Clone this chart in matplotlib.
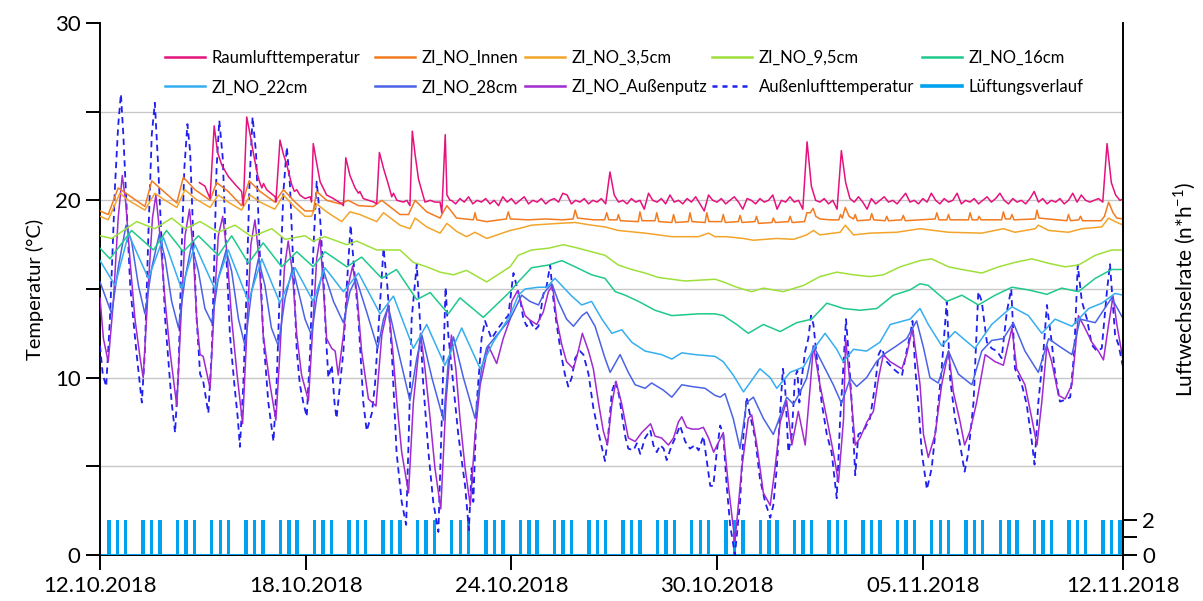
import numpy as np
import matplotlib
matplotlib.use('Agg')
import matplotlib.pyplot as plt
from matplotlib.lines import Line2D

plt.rcParams['font.family'] = ['Lato', 'DejaVu Sans']

# time axis: days since 12.10.2018 00:00
date_ticks = [0, 6, 12, 18, 24, 29.84]
date_labels = ['12.10.2018', '18.10.2018', '24.10.2018', '30.10.2018', '05.11.2018', '12.11.2018']

# (day, temperature °C)
raumluft_head = [
    (2.90, 21.0), (3.06, 20.8), (3.21, 20.1), (3.33, 24.2), (3.43, 22.7), (3.55, 22.0), (3.74, 21.35),
    (3.94, 20.9), (4.13, 20.5), (4.18, 19.7), (4.28, 24.7), (4.38, 23.7), (4.47, 22.7), (4.60, 21.4),
    (4.67, 20.95), (4.72, 20.7), (4.77, 20.95), (4.86, 20.6), (5.11, 20.2), (5.13, 19.9), (5.25, 23.4),
    (5.35, 22.6), (5.45, 22.0), (5.59, 20.9), (5.67, 20.5), (5.74, 20.6), (5.83, 20.3), (5.98, 20.1),
    (6.13, 20.2), (6.17, 19.9), (6.22, 23.2), (6.32, 22.1), (6.42, 21.05), (6.51, 20.7), (6.61, 20.3),
    (6.81, 20.1), (7.05, 19.8), (7.10, 19.7), (7.17, 22.4), (7.29, 21.4), (7.44, 20.7), (7.54, 20.4),
    (7.58, 20.5), (7.68, 20.1), (7.99, 19.9), (8.07, 19.8), (8.15, 22.7), (8.27, 21.8), (8.41, 20.9),
    (8.51, 20.2), (8.56, 20.4), (8.66, 20.0), (8.85, 19.9), (8.95, 20.0), (9.04, 19.7), (9.11, 23.9),
    (9.19, 22.6), (9.29, 21.2), (9.39, 20.5), (9.48, 19.9), (9.63, 20.0), (9.77, 19.9), (9.92, 19.9),
    (9.97, 19.3), (10.07, 23.7), (10.12, 20.3), (10.21, 20.0),
]
# 3-hourly values from 10.25 d on
raumluft_tail_start = 10.25
raumluft_tail_step = 0.125
raumluft_tail = [
    20.0, 19.8, 20.1, 19.9, 20.2, 19.8, 20.0, 19.9,
    20.1, 19.8, 20.0, 19.7, 20.2, 19.9, 20.1, 19.8,
    20.0, 20.2, 19.8, 20.0, 19.9, 20.1, 19.8, 20.0,
    20.1, 19.9, 20.4, 20.3, 19.8, 20.0, 19.9, 20.1,
    19.8, 20.0, 19.9, 20.1, 19.8, 21.6, 20.3, 19.9,
    20.0, 19.8, 20.1, 19.9, 20.0, 19.5, 20.4, 20.0,
    19.9, 20.1, 19.8, 20.3, 19.9, 20.0, 19.8, 20.1,
    19.9, 20.2, 19.8, 19.4, 20.3, 20.0, 19.9, 20.1,
    19.8, 20.0, 20.2, 19.9, 19.5, 20.1, 20.0, 19.8,
    20.1, 19.9, 20.0, 20.3, 19.5, 20.0, 19.9, 20.2,
    19.9, 20.0, 19.5, 23.3, 20.8, 20.0, 19.9, 20.1,
    19.8, 20.0, 19.5, 22.8, 21.0, 20.1, 19.9, 20.2,
    19.9, 19.5, 20.1, 19.8, 20.0, 20.2, 19.9, 20.0,
    19.8, 20.1, 20.4, 19.9, 20.0, 19.8, 20.1, 19.9,
    20.4, 20.0, 19.8, 20.1, 19.9, 20.0, 20.4, 19.8,
    20.0, 19.9, 20.1, 19.8, 20.0, 20.2, 19.9, 20.1,
    20.4, 20.0, 19.8, 20.1, 19.9, 20.0, 19.8, 20.1,
    20.5, 19.9, 20.1, 19.8, 20.0, 19.9, 20.1, 19.8,
    20.0, 20.4, 19.9, 20.3, 20.0, 19.9, 20.0, 20.1,
    19.9, 23.2, 21.0, 20.3, 20.0, 20.1,
]

innen = [
    (0.0, 19.4), (0.24, 19.2), (0.53, 20.7), (0.83, 20.3), (1.31, 19.65), (1.51, 21.1), (1.8, 20.6),
    (2.24, 19.85), (2.43, 21.3), (2.77, 20.6), (3.21, 20.0), (3.4, 21.0), (3.74, 20.5), (4.13, 19.7),
    (4.35, 21.1), (4.67, 20.5), (5.1, 19.9), (5.35, 20.6), (5.69, 19.9), (5.98, 19.4), (6.22, 19.4),
    (6.32, 20.5), (6.61, 20.0), (7.0, 19.8), (7.24, 20.0), (7.54, 19.7), (7.97, 19.65), (8.22, 20.0),
    (8.75, 19.2), (9.0, 19.2), (9.19, 20.0), (9.53, 19.35), (9.92, 19.0), (10.0, 19.3), (10.12, 19.7),
    (10.4, 19.0), (10.89, 18.9), (10.94, 19.3), (10.99, 18.9), (11.28, 18.8), (11.85, 18.95),
    (11.91, 19.35), (11.97, 18.95), (12.5, 18.9), (13.0, 18.95), (13.5, 18.9), (13.8, 18.95),
    (13.86, 19.45), (13.93, 19.0), (14.4, 18.9), (14.72, 18.9), (14.78, 19.3), (14.84, 18.9),
    (15.08, 18.9), (15.12, 19.2), (15.18, 18.85), (15.7, 18.8), (15.75, 19.35), (15.81, 18.85),
    (16.19, 18.85), (16.24, 19.3), (16.3, 18.8), (16.68, 18.75), (16.73, 19.2), (16.79, 18.75),
    (17.16, 18.8), (17.21, 19.3), (17.27, 18.8), (17.65, 18.75), (17.7, 19.3), (17.76, 18.8),
    (18.13, 18.8), (18.18, 19.2), (18.24, 18.75), (18.62, 18.8), (18.67, 19.15), (18.73, 18.75),
    (19.1, 18.8), (19.15, 19.1), (19.21, 18.7), (19.6, 18.75), (19.64, 19.0), (19.7, 18.75),
    (20.08, 18.8), (20.13, 19.1), (20.19, 18.75), (20.55, 18.8), (20.62, 19.3), (20.72, 19.3),
    (20.8, 19.55), (20.88, 19.1), (21.0, 18.95), (21.3, 18.9), (21.55, 18.9), (21.6, 19.2),
    (21.65, 19.0), (21.74, 19.6), (21.85, 19.1), (21.98, 18.95), (22.03, 19.2), (22.09, 18.85),
    (22.46, 18.9), (22.51, 19.25), (22.57, 18.9), (22.9, 18.85), (22.95, 19.1), (23.0, 18.85),
    (23.38, 18.9), (23.43, 19.15), (23.49, 18.85), (23.9, 18.9), (24.36, 18.95), (24.41, 19.3),
    (24.47, 18.9), (24.7, 18.9), (24.75, 19.2), (24.8, 18.9), (25.33, 18.9), (25.38, 19.3),
    (25.44, 18.9), (25.6, 18.9), (25.64, 19.1), (25.7, 18.9), (26.3, 18.9), (26.35, 19.35),
    (26.41, 18.95), (26.55, 18.95), (26.6, 19.2), (26.66, 18.9), (27.28, 18.95), (27.33, 19.45),
    (27.39, 19.0), (28.2, 18.85), (28.25, 19.2), (28.31, 18.85), (28.55, 18.9), (28.6, 19.1),
    (28.66, 18.85), (29.2, 18.85), (29.3, 19.1), (29.42, 19.9), (29.55, 19.3), (29.66, 19.0),
    (29.85, 18.95),
]

cm_3_5 = [
    (0.0, 19.1), (0.24, 18.9), (0.58, 20.4), (0.83, 20.0), (1.31, 19.45), (1.6, 20.4), (1.9, 20.0),
    (2.24, 19.6), (2.48, 20.6), (2.77, 20.1), (3.21, 19.6), (3.45, 20.3), (3.74, 19.9), (4.13, 19.45),
    (4.38, 20.3), (4.67, 19.9), (5.1, 19.5), (5.35, 20.3), (5.64, 19.7), (5.98, 19.1), (6.17, 19.1),
    (6.32, 19.8), (6.61, 19.35), (7.05, 18.8), (7.29, 19.35), (7.58, 19.2), (8.07, 18.8), (8.27, 19.3),
    (8.75, 18.6), (9.04, 18.4), (9.19, 19.0), (9.53, 18.5), (9.92, 18.15), (10.12, 18.7), (10.4, 18.25),
    (10.69, 17.95), (10.94, 18.2), (11.28, 17.85), (11.96, 18.3), (12.2, 18.4), (12.59, 18.6),
    (13.37, 18.7), (13.86, 18.75), (14.34, 18.6), (14.73, 18.5), (15.12, 18.3), (15.9, 18.15),
    (16.29, 18.05), (16.68, 17.95), (17.46, 17.95), (17.75, 18.15), (17.94, 17.95), (18.28, 17.95),
    (18.77, 17.85), (19.06, 17.75), (19.74, 17.85), (20.23, 17.8), (20.61, 18.05), (20.81, 18.3),
    (21.0, 18.05), (21.59, 18.2), (21.74, 18.6), (21.98, 18.05), (22.46, 18.15), (23.24, 18.2),
    (23.92, 18.4), (24.75, 18.2), (25.72, 18.15), (26.35, 18.4), (26.69, 18.2), (27.28, 18.4),
    (27.37, 18.6), (27.67, 18.3), (28.25, 18.2), (28.64, 18.4), (29.22, 18.5), (29.42, 19.0),
    (29.61, 18.8), (29.85, 18.6),
]

cm_9_5 = [
    (0.0, 18.0), (0.34, 17.85), (1.07, 18.8), (1.6, 18.4), (2.09, 19.0), (2.48, 18.4), (2.92, 18.8),
    (3.45, 18.2), (3.94, 18.6), (4.42, 17.95), (5.01, 18.4), (5.4, 17.8), (5.98, 18.0), (6.22, 17.7),
    (6.56, 17.95), (7.2, 17.5), (7.49, 17.7), (8.07, 17.2), (8.75, 17.2), (9.14, 16.5), (9.53, 16.25),
    (9.92, 15.95), (10.31, 15.8), (10.69, 16.05), (11.28, 15.4), (11.96, 16.25), (12.2, 16.9),
    (12.59, 17.2), (13.08, 17.3), (13.52, 17.5), (13.95, 17.3), (14.34, 17.1), (14.73, 16.9),
    (15.12, 16.35), (15.51, 16.1), (15.9, 15.9), (16.29, 15.65), (17.07, 15.45), (17.94, 15.55),
    (18.18, 15.4), (18.57, 15.1), (19.01, 14.85), (19.35, 15.05), (19.93, 14.85), (20.52, 15.2),
    (21.0, 15.7), (21.49, 15.95), (21.98, 15.8), (22.46, 15.7), (22.85, 15.8), (23.34, 16.25),
    (23.92, 16.6), (24.26, 16.7), (24.75, 16.25), (25.14, 16.1), (25.72, 15.9), (26.21, 16.25),
    (26.69, 16.5), (27.18, 16.7), (27.67, 16.45), (28.15, 16.25), (28.54, 16.35), (29.03, 16.9),
    (29.51, 17.2), (29.85, 17.2),
]

cm_16 = [
    (0.0, 17.3), (0.29, 16.7), (0.92, 18.3), (1.56, 17.2), (1.94, 18.3), (2.43, 17.1), (2.87, 18.0),
    (3.45, 16.9), (3.84, 18.0), (4.33, 16.45), (4.76, 17.6), (5.3, 16.25), (5.74, 17.1), (6.22, 16.25),
    (6.56, 17.1), (7.2, 16.25), (7.63, 16.8), (8.22, 15.6), (8.65, 16.1), (9.24, 14.4), (9.63, 14.8),
    (10.16, 13.6), (10.5, 14.5), (11.18, 13.4), (11.96, 14.85), (12.2, 15.4), (12.59, 16.2),
    (13.08, 16.35), (13.47, 16.6), (13.86, 16.25), (14.34, 15.8), (14.73, 15.6), (15.03, 14.85),
    (15.32, 14.65), (15.71, 14.3), (16.19, 13.8), (16.68, 13.5), (17.46, 13.6), (17.94, 13.6),
    (18.18, 13.5), (18.57, 13.0), (18.91, 12.5), (19.35, 13.0), (19.84, 12.6), (20.32, 13.1),
    (20.76, 13.3), (21.2, 14.2), (21.69, 13.9), (22.17, 13.8), (22.66, 13.9), (23.14, 14.65),
    (23.63, 14.95), (23.92, 15.3), (24.16, 15.2), (24.7, 14.3), (25.14, 14.65), (25.62, 14.1),
    (26.11, 14.65), (26.6, 15.1), (27.08, 14.95), (27.62, 14.7), (28.05, 15.05), (28.54, 14.85),
    (29.03, 15.6), (29.51, 16.1), (29.85, 16.1),
]

cm_22 = [
    (0.0, 16.6), (0.44, 15.2), (0.83, 18.1), (1.41, 15.6), (1.85, 17.9), (2.38, 15.0), (2.77, 17.5),
    (3.35, 15.0), (3.74, 17.2), (4.33, 14.3), (4.72, 16.7), (5.25, 14.2), (5.69, 16.2), (6.22, 14.3),
    (6.56, 16.2), (7.1, 14.85), (7.54, 15.9), (8.17, 13.6), (8.56, 14.6), (9.14, 11.65), (9.53, 13.0),
    (10.06, 10.7), (10.55, 12.8), (11.09, 10.5), (11.47, 12.0), (11.96, 13.5), (12.2, 14.65),
    (12.4, 15.0), (12.79, 15.1), (13.03, 15.1), (13.27, 15.6), (13.76, 14.6), (14.05, 14.1),
    (14.34, 14.3), (14.64, 13.3), (14.93, 12.5), (15.22, 12.7), (15.51, 12.0), (15.9, 11.5),
    (16.38, 11.3), (16.68, 11.05), (16.97, 11.4), (17.36, 11.3), (17.94, 11.2), (18.18, 10.9),
    (18.47, 10.15), (18.77, 9.2), (19.25, 10.5), (19.55, 10.0), (19.74, 9.4), (20.13, 10.3),
    (20.52, 10.6), (20.81, 11.6), (21.15, 12.5), (21.49, 11.6), (21.68, 10.9), (21.98, 11.6),
    (22.36, 11.5), (22.75, 12.0), (23.05, 13.0), (23.63, 13.3), (23.92, 13.9), (24.16, 13.0),
    (24.55, 11.8), (24.94, 12.6), (25.52, 11.65), (26.01, 13.0), (26.6, 14.0), (27.08, 13.5),
    (27.47, 12.5), (27.86, 13.3), (28.35, 12.9), (28.84, 13.9), (29.22, 14.2), (29.61, 14.75),
    (29.85, 14.65),
]

cm_28 = [
    (0.0, 15.4), (0.34, 13.6), (0.53, 16.2), (0.76, 18.6), (0.92, 17.7), (1.12, 15.2), (1.31, 13.6),
    (1.51, 16.2), (1.73, 18.1), (1.9, 16.7), (2.09, 14.3), (2.29, 12.8), (2.48, 15.6), (2.67, 17.5),
    (2.87, 16.0), (3.06, 13.9), (3.26, 13.1), (3.45, 15.6), (3.68, 17.2), (3.84, 16.0), (4.04, 13.3),
    (4.23, 11.8), (4.42, 14.85), (4.62, 16.7), (4.81, 15.2), (5.0, 12.8), (5.2, 11.8), (5.4, 14.5),
    (5.62, 16.2), (5.79, 14.85), (5.98, 13.3), (6.17, 12.4), (6.32, 14.5), (6.51, 16.1), (6.81, 14.3),
    (7.1, 13.1), (7.29, 14.85), (7.47, 15.6), (7.78, 13.7), (8.1, 11.65), (8.27, 13.3), (8.41, 14.0),
    (8.7, 11.5), (9.04, 8.7), (9.24, 11.1), (9.39, 12.4), (9.68, 10.0), (10.02, 7.6), (10.16, 10.9),
    (10.31, 12.3), (10.6, 10.0), (10.94, 7.7), (11.13, 10.5), (11.28, 11.7), (11.96, 13.3),
    (12.3, 14.65), (12.54, 14.3), (12.79, 14.1), (12.98, 14.85), (13.18, 15.3), (13.37, 14.3),
    (13.61, 13.3), (13.81, 12.9), (14.06, 13.5), (14.2, 13.7), (14.44, 12.9), (14.73, 11.1),
    (14.88, 10.3), (15.17, 11.3), (15.41, 10.3), (15.61, 9.6), (15.9, 9.4), (16.09, 9.7),
    (16.43, 9.3), (16.68, 8.9), (16.97, 9.6), (17.26, 9.5), (17.65, 9.4), (17.94, 9.0), (18.09, 8.9),
    (18.23, 9.1), (18.47, 7.7), (18.67, 6.0), (18.86, 8.6), (19.06, 8.9), (19.35, 7.7), (19.64, 6.8),
    (19.89, 8.1), (20.03, 8.9), (20.23, 8.5), (20.37, 9.0), (20.61, 9.95), (20.81, 11.8), (21.1, 10.7),
    (21.39, 9.6), (21.63, 8.55), (21.88, 9.95), (22.07, 9.5), (22.36, 10.0), (22.65, 10.9),
    (22.85, 11.3), (23.24, 11.8), (23.53, 12.2), (23.82, 13.2), (24.02, 11.7), (24.21, 10.0),
    (24.45, 9.7), (24.75, 11.5), (25.04, 10.2), (25.43, 9.6), (25.72, 11.5), (26.01, 12.1),
    (26.35, 12.2), (26.64, 13.1), (26.98, 11.5), (27.37, 10.3), (27.67, 12.2), (27.96, 11.8),
    (28.35, 11.3), (28.59, 13.3), (29.03, 13.1), (29.51, 14.5), (29.85, 13.3),
]

aussenputz = [
    (0.0, 14.5), (0.10, 12.2), (0.24, 10.9), (0.39, 14.3), (0.53, 19.0), (0.65, 21.4), (0.75, 19.9),
    (0.88, 16.5), (1.02, 13.3), (1.17, 11.1), (1.26, 10.0), (1.41, 15.2), (1.53, 19.0), (1.63, 20.3),
    (1.75, 18.0), (1.90, 14.3), (2.04, 11.5), (2.24, 8.4), (2.36, 13.3), (2.48, 18.0), (2.61, 19.5),
    (2.72, 17.1), (2.82, 13.3), (2.92, 11.3), (3.01, 11.2), (3.11, 10.3), (3.21, 9.4), (3.34, 14.3),
    (3.45, 18.0), (3.58, 19.1), (3.70, 17.1), (3.84, 13.3), (4.0, 10.15), (4.16, 7.4), (4.28, 12.4),
    (4.40, 17.5), (4.52, 18.9), (4.64, 16.7), (4.76, 12.4), (4.96, 9.6), (5.13, 7.6), (5.25, 11.5),
    (5.38, 16.2), (5.49, 17.7), (5.61, 16.0), (5.74, 12.4), (5.88, 10.15), (6.08, 8.7), (6.22, 13.3),
    (6.32, 16.7), (6.42, 17.9), (6.51, 15.2), (6.61, 12.2), (6.76, 11.65), (6.86, 11.5), (6.95, 10.15),
    (7.1, 12.4), (7.24, 15.2), (7.37, 16.3), (7.49, 14.85), (7.63, 11.5), (7.83, 8.8), (8.05, 8.4),
    (8.22, 12.4), (8.41, 14.1), (8.54, 11.5), (8.66, 8.6), (8.80, 5.8), (9.0, 3.5), (9.14, 8.6),
    (9.35, 12.5), (9.48, 10.5), (9.63, 7.7), (9.77, 4.9), (9.94, 2.6), (10.09, 8.6), (10.25, 12.4),
    (10.38, 10.5), (10.5, 7.7), (10.65, 4.9), (10.8, 2.8), (10.94, 6.8), (11.09, 9.6), (11.33, 11.8),
    (11.57, 10.8), (11.76, 12.2), (11.96, 13.3), (12.01, 14.3), (12.18, 14.9), (12.3, 14.1),
    (12.4, 13.5), (12.54, 13.25), (12.74, 13.0), (12.93, 13.7), (13.08, 14.85), (13.2, 15.2),
    (13.32, 13.3), (13.47, 11.85), (13.61, 10.9), (13.81, 10.5), (13.95, 11.5), (14.07, 12.5),
    (14.25, 11.5), (14.39, 10.5), (14.54, 8.6), (14.68, 7.0), (14.8, 6.2), (14.93, 8.5), (15.05, 9.8),
    (15.22, 8.5), (15.41, 6.6), (15.61, 6.4), (15.8, 6.9), (16.06, 7.4), (16.19, 6.7), (16.38, 6.6),
    (16.58, 6.2), (16.73, 6.6), (16.87, 7.5), (16.97, 7.8), (17.11, 7.2), (17.26, 7.1), (17.46, 7.1),
    (17.6, 7.2), (17.75, 6.6), (17.9, 5.8), (18.18, 6.9), (18.33, 3.9), (18.52, 0.75), (18.72, 4.9),
    (18.91, 7.7), (19.01, 7.9), (19.16, 6.2), (19.35, 3.5), (19.55, 2.8), (19.69, 4.9), (19.84, 7.5),
    (20.03, 8.7), (20.18, 6.2), (20.37, 8.1), (20.57, 6.2), (20.72, 9.6), (20.81, 11.8), (21.0, 9.6),
    (21.2, 7.7), (21.39, 5.8), (21.54, 4.1), (21.69, 7.7), (21.75, 12.2), (21.88, 9.6), (22.03, 6.2),
    (22.17, 6.6), (22.37, 7.5), (22.56, 8.1), (22.71, 10.0), (22.85, 11.3), (23.05, 10.9),
    (23.39, 10.5), (23.53, 11.3), (23.7, 12.8), (23.82, 11.1), (23.92, 9.6), (24.02, 6.8),
    (24.16, 5.5), (24.36, 6.8), (24.55, 9.6), (24.75, 11.5), (24.89, 9.2), (25.09, 7.5), (25.22, 6.2),
    (25.38, 7.0), (25.57, 8.6), (25.82, 11.3), (26.11, 10.9), (26.35, 10.7), (26.6, 12.8),
    (26.74, 10.5), (26.98, 9.6), (27.18, 7.7), (27.33, 6.2), (27.47, 8.6), (27.62, 11.8),
    (27.76, 10.9), (27.96, 9.0), (28.15, 8.8), (28.35, 9.6), (28.54, 13.5), (28.73, 12.8),
    (28.93, 12.0), (29.12, 11.5), (29.27, 11.0), (29.42, 13.0), (29.55, 14.6), (29.66, 13.0),
    (29.85, 10.9),
]

aussenluft = [
    (0.00, 11.8), (0.08, 10.2), (0.18, 9.5), (0.29, 13.3), (0.44, 20.9), (0.53, 24.2), (0.61, 26.0),
    (0.68, 23.7), (0.78, 19.4), (0.88, 15.2), (0.97, 13.3), (1.07, 11.3), (1.22, 8.6), (1.31, 11.5),
    (1.41, 18.0), (1.51, 23.7), (1.60, 25.5), (1.70, 21.8), (1.80, 17.5), (1.90, 13.3), (1.99, 11.1),
    (2.09, 8.6), (2.19, 6.9), (2.29, 10.5), (2.38, 17.1), (2.46, 21.8), (2.55, 24.3), (2.63, 22.7),
    (2.72, 18.0), (2.82, 13.3), (2.92, 10.2), (3.01, 9.8), (3.16, 8.0), (3.26, 11.5), (3.34, 17.1),
    (3.40, 21.8), (3.48, 24.5), (3.58, 22.4), (3.68, 17.1), (3.79, 12.4), (3.92, 9.6), (4.02, 7.7),
    (4.08, 6.1), (4.18, 9.6), (4.28, 15.2), (4.36, 20.9), (4.45, 24.7), (4.55, 22.7), (4.65, 17.5),
    (4.76, 12.4), (4.91, 8.6), (5.06, 6.4), (5.15, 9.6), (5.25, 15.2), (5.35, 20.5), (5.45, 23.0),
    (5.54, 20.9), (5.64, 16.2), (5.74, 11.5), (5.83, 9.6), (5.93, 8.6), (6.03, 7.8), (6.13, 11.5),
    (6.22, 17.1), (6.32, 21.05), (6.42, 19.0), (6.51, 16.0), (6.59, 12.4), (6.66, 10.0), (6.76, 10.7),
    (6.84, 8.6), (6.90, 7.7), (7.00, 9.6), (7.10, 11.5), (7.20, 15.2), (7.31, 18.6), (7.41, 16.2),
    (7.54, 13.3), (7.68, 8.6), (7.78, 7.0), (7.93, 8.0), (8.02, 9.6), (8.14, 13.3), (8.27, 17.3),
    (8.38, 15.2), (8.51, 11.5), (8.65, 5.8), (8.80, 3.0), (8.93, 1.7), (9.02, 7.7), (9.09, 13.3),
    (9.24, 16.4), (9.33, 13.3), (9.43, 9.6), (9.58, 5.8), (9.72, 3.0), (9.87, 1.3), (9.97, 7.7),
    (10.04, 12.4), (10.08, 15.1), (10.16, 12.4), (10.26, 10.5), (10.45, 6.8), (10.65, 3.9),
    (10.76, 1.4), (10.84, 4.9), (10.89, 3.0), (10.99, 8.6), (11.13, 12.2), (11.23, 13.2),
    (11.42, 12.2), (11.62, 12.8), (11.81, 13.3), (11.91, 13.5), (12.06, 15.9), (12.15, 15.2),
    (12.25, 14.5), (12.35, 13.3), (12.45, 12.9), (12.54, 13.2), (12.69, 12.7), (12.79, 12.9),
    (12.93, 14.7), (13.03, 15.2), (13.13, 16.35), (13.22, 14.5), (13.32, 13.0), (13.47, 11.1),
    (13.56, 10.2), (13.66, 9.5), (13.76, 10.0), (13.86, 11.1), (14.0, 11.5), (14.1, 11.3),
    (14.25, 10.2), (14.39, 8.3), (14.54, 6.9), (14.73, 5.3), (14.83, 6.9), (14.93, 9.2), (15.03, 9.8),
    (15.14, 9.0), (15.24, 7.7), (15.33, 6.6), (15.41, 6.0), (15.56, 5.9), (15.66, 6.3), (15.76, 5.7),
    (15.90, 6.6), (16.05, 7.05), (16.14, 6.2), (16.24, 5.8), (16.34, 6.2), (16.44, 6.0), (16.53, 5.35),
    (16.68, 6.2), (16.78, 6.6), (16.92, 7.3), (17.07, 6.4), (17.21, 6.0), (17.36, 6.2), (17.46, 5.9),
    (17.60, 6.7), (17.70, 5.3), (17.80, 3.9), (17.89, 3.9), (17.99, 5.8), (18.09, 7.3), (18.18, 6.8),
    (18.28, 3.9), (18.38, 1.7), (18.52, 0.0), (18.67, 3.0), (18.77, 6.8), (18.86, 8.9), (18.96, 7.9),
    (19.11, 6.6), (19.25, 4.3), (19.4, 3.0), (19.55, 2.1), (19.64, 2.8), (19.74, 4.9), (19.84, 8.1),
    (19.92, 10.5), (19.98, 9.6), (20.08, 5.8), (20.18, 6.8), (20.27, 10.0), (20.34, 10.4), (20.4, 8.6),
    (20.47, 10.0), (20.57, 11.5), (20.66, 12.2), (20.74, 13.5), (20.81, 13.0), (20.91, 11.1),
    (21.05, 8.6), (21.2, 6.8), (21.34, 5.8), (21.49, 3.2), (21.59, 7.7), (21.68, 10.5), (21.76, 13.3),
    (21.83, 11.5), (21.93, 8.5), (22.03, 4.5), (22.12, 6.8), (22.27, 7.0), (22.46, 7.7), (22.61, 9.6),
    (22.71, 11.3), (22.80, 11.65), (22.95, 10.9), (23.14, 10.5), (23.39, 10.1), (23.53, 11.5),
    (23.63, 12.4), (23.7, 13.2), (23.78, 10.5), (23.87, 8.5), (23.97, 5.8), (24.12, 3.7), (24.26, 4.9),
    (24.41, 7.7), (24.55, 10.5), (24.70, 14.3), (24.80, 9.9), (24.94, 7.7), (25.09, 6.2), (25.22, 4.7),
    (25.33, 5.8), (25.48, 8.6), (25.62, 14.85), (25.72, 14.3), (25.87, 12.0), (26.01, 11.65),
    (26.16, 11.5), (26.3, 11.1), (26.45, 13.7), (26.58, 15.0), (26.69, 10.5), (26.89, 9.6),
    (27.03, 8.5), (27.18, 6.4), (27.26, 5.1), (27.37, 8.6), (27.52, 11.5), (27.62, 14.1), (27.76, 12.0),
    (27.86, 10.2), (28.0, 8.65), (28.15, 8.75), (28.3, 8.9), (28.42, 11.5), (28.52, 16.35),
    (28.64, 14.3), (28.79, 13.3), (28.93, 11.85), (29.08, 11.5), (29.22, 11.65), (29.37, 14.85),
    (29.46, 16.4), (29.61, 12.4), (29.71, 11.85), (29.85, 10.5),
]

# ventilation: three openings per day, rate 2 1/h
vent_days = [0, 1, 2, 3, 4, 5, 6, 7, 8, 9, 10, 11, 12, 13, 14,
             15, 16, 17, 18, 19, 20, 21, 22, 23, 24, 25, 26, 27, 28, 29]
vent_offsets = [0.26, 0.51, 0.75]
vent_rate = 2

series = [
    ('Raumlufttemperatur', '#e5127d', '-'),
    ('ZI_NO_Innen', '#f27b21', '-'),
    ('ZI_NO_3,5cm', '#f2a52a', '-'),
    ('ZI_NO_9,5cm', '#9ee03a', '-'),
    ('ZI_NO_16cm', '#1fc98a', '-'),
    ('ZI_NO_22cm', '#35aef0', '-'),
    ('ZI_NO_28cm', '#4a63e6', '-'),
    ('ZI_NO_Außenputz', '#a12ad0', '-'),
    ('Außenlufttemperatur', '#1f1ff0', '--'),
]
vent_color = '#00a2f0'

fig = plt.figure(figsize=(12.03, 6.01), dpi=100)
ax = fig.add_axes([100 / 1203, 46 / 601, 1023 / 1203, 532 / 601])

for level in [5, 10, 15, 20, 25]:
    ax.axhline(level, color='#c8c8c8', lw=1.0, zorder=0)

# ventilation bars
vent_x = [d + o for d in vent_days for o in vent_offsets]
ax.bar(vent_x, [vent_rate] * len(vent_x), width=0.1, color=vent_color, zorder=1)
ax.axhline(0, color=vent_color, lw=2.2, zorder=1)

raum_t = [p[0] for p in raumluft_head] + [raumluft_tail_start + raumluft_tail_step * i
                                          for i in range(len(raumluft_tail))]
raum_v = [p[1] for p in raumluft_head] + raumluft_tail

data = [None, innen, cm_3_5, cm_9_5, cm_16, cm_22, cm_28, aussenputz, aussenluft]
order = [8, 7, 6, 5, 4, 3, 2, 1, 0]
for k in order:
    name, col, ls = series[k]
    if k == 0:
        t, v = raum_t, raum_v
    else:
        t = [p[0] for p in data[k]]
        v = [p[1] for p in data[k]]
    if ls == '--':
        ax.plot(t, v, color=col, lw=1.3, ls=(0, (3.5, 2.5)), zorder=3)
    else:
        ax.plot(t, v, color=col, lw=1.1, zorder=3)

ax.set_xlim(0, 29.84)
ax.set_ylim(0, 30)
ax.set_xticks(date_ticks)
ax.set_xticklabels(date_labels, fontsize=16)
ax.set_yticks([0, 10, 20, 30])
ax.set_yticks([5, 15, 25], minor=True)
ax.tick_params(axis='y', which='both', direction='out', length=10, width=1.4, labelsize=16, pad=4)
ax.tick_params(axis='x', which='both', direction='out', length=11, width=1.4, pad=4)
ax.spines['top'].set_visible(False)
ax.spines['right'].set_visible(False)
for s in ['left', 'bottom']:
    ax.spines[s].set_linewidth(1.4)
    ax.spines[s].set_color('black')
ax.spines['bottom'].set_zorder(0.5)
ax.set_ylabel('Temperatur (°C)', fontsize=14.5, labelpad=8)

ax2 = ax.twinx()
ax2.set_ylim(0, 30)
ax2.set_yticks([0, 2])
ax2.set_yticks([1], minor=True)
ax2.tick_params(axis='y', which='both', direction='out', length=10, width=1.4, labelsize=16, pad=4)
for s in ['top', 'left', 'bottom']:
    ax2.spines[s].set_visible(False)
ax2.spines['right'].set_linewidth(1.4)
ax2.set_ylabel('Luftwechselrate (n*h$^{\\mathregular{-1}}$)', fontsize=15, labelpad=12)

# legend, one block per column
handles = []
for name, col, ls in series:
    if ls == '--':
        handles.append(Line2D([], [], color=col, lw=1.8, ls=(0, (2, 2))))
    else:
        handles.append(Line2D([], [], color=col, lw=1.8))
handles.append(Line2D([], [], color=vent_color, lw=2.6))
labels = [s[0] for s in series] + ['Lüftungsverlauf']
col_x = [165, 375, 525, 712, 922]
for c in range(5):
    fig.legend([handles[c], handles[c + 5]], [labels[c], labels[c + 5]],
               loc='upper left', bbox_to_anchor=(col_x[c] / 1203, 1 - 50 / 601),
               frameon=False, fontsize=12, handlelength=2.4, handletextpad=0.4,
               borderpad=0, borderaxespad=0, labelspacing=0.8)

fig.savefig('out.png', dpi=100)
